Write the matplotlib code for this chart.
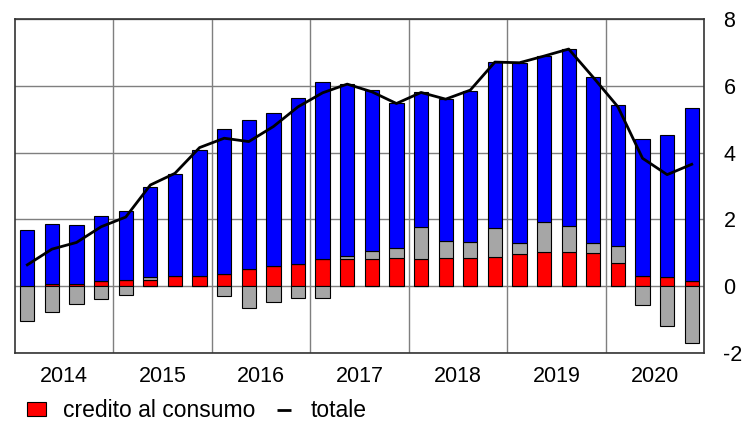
import numpy as np
import matplotlib
matplotlib.use("Agg")
from matplotlib import pyplot as plt
from matplotlib.patches import Patch
from matplotlib.lines import Line2D

plt.rcParams['font.family'] = ['Liberation Sans', 'DejaVu Sans']
plt.rcParams['axes.unicode_minus'] = False

# quarterly data, 2014Q1 - 2020Q4
years = ['2014', '2015', '2016', '2017', '2018', '2019', '2020']
credito_consumo = [0.00, 0.06, 0.06, 0.16, 0.18, 0.19, 0.30, 0.32,
                   0.37, 0.51, 0.60, 0.66, 0.80, 0.82, 0.82, 0.84,
                   0.81, 0.84, 0.84, 0.86, 0.96, 1.02, 1.02, 0.98,
                   0.70, 0.30, 0.27, 0.16]
altri = [-1.03, -0.76, -0.53, -0.38, -0.25, 0.08, 0.00, 0.00,
         -0.29, -0.66, -0.48, -0.36, -0.34, 0.08, 0.23, 0.30,
         0.97, 0.51, 0.48, 0.87, 0.34, 0.90, 0.79, 0.30,
         0.50, -0.57, -1.19, -1.70]
abitazioni = [1.67, 1.79, 1.76, 1.95, 2.08, 2.69, 3.06, 3.75,
              4.35, 4.48, 4.60, 4.97, 5.31, 5.16, 4.82, 4.34,
              4.04, 4.26, 4.51, 4.97, 5.37, 4.98, 5.29, 4.98,
              4.22, 4.10, 4.25, 5.18]
totale = [0.64, 1.11, 1.31, 1.78, 2.07, 3.03, 3.38, 4.15,
          4.43, 4.33, 4.78, 5.37, 5.79, 6.05, 5.82, 5.47,
          5.80, 5.60, 5.87, 6.71, 6.69, 6.89, 7.10, 6.25,
          5.37, 3.83, 3.34, 3.65]

red = np.array(credito_consumo)
gray = np.array(altri)
blue = np.array(abitazioni)
x = np.arange(len(red))

fig = plt.figure(figsize=(7.47, 4.21), dpi=100)
ax = fig.add_axes([0.0201, 0.1615, 0.9224, 0.7934])

w = 0.58
ec = dict(edgecolor='black', linewidth=0.8)
ax.bar(x, red, w, color='#ff0000', zorder=3, **ec)
gray_pos = np.where(gray > 0, gray, 0)
gray_neg = np.where(gray < 0, gray, 0)
ax.bar(x, gray_pos, w, bottom=red, color='#a6a6a6', zorder=3, **ec)
ax.bar(x, gray_neg, w, color='#a6a6a6', zorder=3, **ec)
ax.bar(x, blue, w, bottom=red + gray_pos, color='#0000ff', zorder=3, **ec)
ax.plot(x, totale, color='black', linewidth=2, zorder=4)

ax.set_xlim(-0.5, len(x) - 0.5)
ax.set_ylim(-2, 8)
ax.set_yticks(range(-2, 9, 2))
ax.yaxis.tick_right()
ax.tick_params(axis='y', length=0, pad=14, labelsize=15.5)
ax.grid(axis='y', color='#7f7f7f', linewidth=1, zorder=1)
for b in range(4, len(x), 4):
    ax.axvline(b - 0.5, color='#7f7f7f', linewidth=1, zorder=1)

ax.set_xticks([4 * i + 1.5 for i in range(len(years))])
ax.set_xticklabels(years)
ax.tick_params(axis='x', length=0, pad=9, labelsize=15.5)
for s in ax.spines.values():
    s.set_color('#333333')
    s.set_linewidth(1.2)

handles = [Patch(facecolor='#ff0000', edgecolor='black', linewidth=0.8),
           Line2D([], [], color='black', marker='_', linestyle='None',
                  markersize=10.5, markeredgewidth=2)]
fig.legend(handles, ['credito al consumo', 'totale'], loc='lower left',
           bbox_to_anchor=(0.0357, -0.003), ncol=2, frameon=False, fontsize=16.5,
           handlelength=0.83, handleheight=0.52, handletextpad=0.75,
           columnspacing=0.85, borderpad=0, borderaxespad=0, numpoints=1)

plt.savefig('out.png', dpi=100)
